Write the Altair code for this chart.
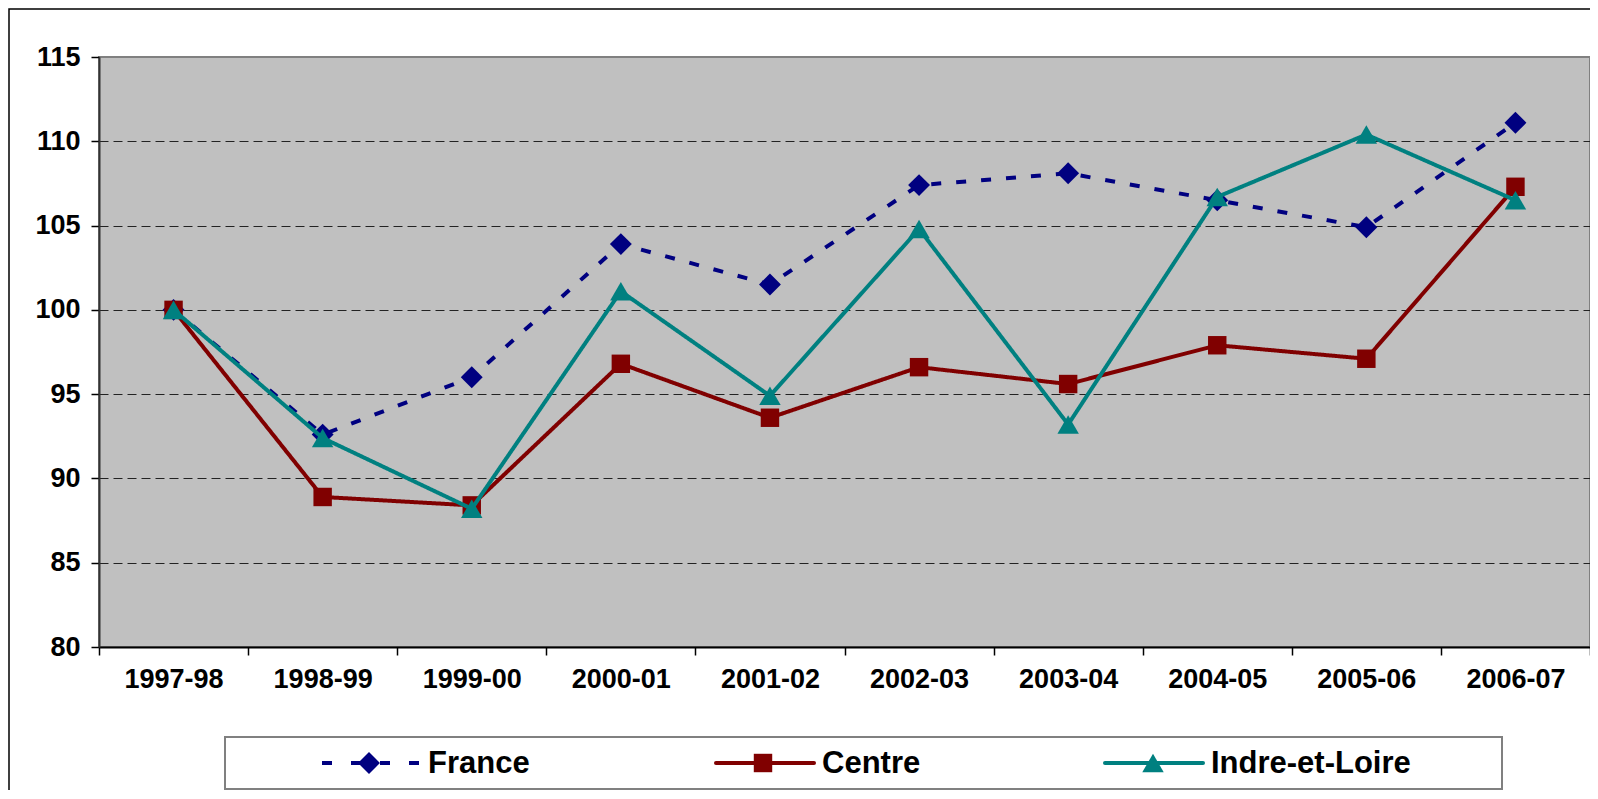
import altair as alt
import pandas as pd

categories = ["1997-98", "1998-99", "1999-00", "2000-01", "2001-02",
              "2002-03", "2003-04", "2004-05", "2005-06", "2006-07"]
france = [100, 92.6, 96.0, 103.9, 101.5, 107.4, 108.1, 106.5, 104.9, 111.1]
centre = [100, 88.9, 88.4, 96.8, 93.6, 96.6, 95.6, 97.9, 97.1, 107.3]
indre = [100, 92.4, 88.2, 101.1, 94.9, 104.8, 93.2, 106.7, 110.4, 106.5]
series_names = ["France", "Centre", "Indre-et-Loire"]
series_colors = ["#000080", "#800000", "#008080"]
y_ticks = [80, 85, 90, 95, 100, 105, 110, 115]

FONT = "Liberation Sans"
W, H = 1491, 590

x_enc = alt.X("cat:O", sort=categories,
              scale=alt.Scale(type="band", domain=categories, paddingInner=0, paddingOuter=0),
              bandPosition=0.5,
              axis=alt.Axis(title=None, labelAngle=0, tickBand="extent", grid=False,
                            labelFont=FONT, labelFontSize=27, labelFontWeight="bold",
                            labelColor="#000000", labelPadding=11, tickSize=8,
                            tickColor="#000000", tickWidth=1.5,
                            domainColor="#000000", domainWidth=2))
y_enc = alt.Y("val:Q", scale=alt.Scale(domain=[80, 115], nice=False, zero=False),
              axis=alt.Axis(title=None, values=y_ticks, labelFont=FONT, labelFontSize=27,
                            labelFontWeight="bold", labelColor="#000000", labelPadding=11,
                            tickSize=8, tickColor="#000000", tickWidth=1.5,
                            domainColor="#333333", domainWidth=2,
                            gridColor="#222222", gridDash=[9, 5], gridWidth=1.2,
                            gridOpacity=alt.condition("datum.value == 80 || datum.value == 115",
                                                      alt.value(0), alt.value(1))))

def series_layers(name, values, color, shape, size, dash):
    df = pd.DataFrame({"cat": categories, "val": values, "series": name})
    base = alt.Chart(df)
    line = base.mark_line(color=color, strokeWidth=4, strokeDash=dash).encode(x=x_enc, y=y_enc)
    pts = base.mark_point(color=color, filled=True, opacity=1, shape=shape, size=size).encode(x=x_enc, y=y_enc)
    return [line, pts]

layers = []
layers += series_layers("France", france, series_colors[0], "diamond", 480, [10, 15])
layers += series_layers("Centre", centre, series_colors[1], "square", 340, [1, 0])
layers += series_layers("Indre-et-Loire", indre, series_colors[2], "triangle-up", 460, [1, 0])

dummy = pd.DataFrame({"a": [0]})

# outer frame (right and bottom sides fall outside the picture, as in the original)
frame = alt.Chart(dummy).mark_rect(fill=None, stroke="#000000", strokeWidth=1.5).encode(
    x=alt.value(-90), x2=alt.value(1520), y=alt.value(-48), y2=alt.value(780))

# legend box
leg_box = alt.Chart(dummy).mark_rect(fill="#ffffff", stroke="#808080", strokeWidth=2).encode(
    x=alt.value(126), x2=alt.value(1403), y=alt.value(680), y2=alt.value(732))

LY = 706
leg = [frame, leg_box]
# France
leg.append(alt.Chart(dummy).mark_rule(color=series_colors[0], strokeWidth=4, strokeDash=[10, 19]).encode(
    x=alt.value(223), x2=alt.value(320), y=alt.value(LY)))
leg.append(alt.Chart(dummy).mark_point(color=series_colors[0], filled=True, opacity=1, shape="diamond", size=480).encode(
    x=alt.value(270), y=alt.value(LY)))
# Centre
leg.append(alt.Chart(dummy).mark_rule(color=series_colors[1], strokeWidth=4, strokeCap="round").encode(
    x=alt.value(617), x2=alt.value(715), y=alt.value(LY)))
leg.append(alt.Chart(dummy).mark_point(color=series_colors[1], filled=True, opacity=1, shape="square", size=340).encode(
    x=alt.value(664), y=alt.value(LY)))
# Indre
leg.append(alt.Chart(dummy).mark_rule(color=series_colors[2], strokeWidth=4, strokeCap="round").encode(
    x=alt.value(1006), x2=alt.value(1104), y=alt.value(LY)))
leg.append(alt.Chart(dummy).mark_point(color=series_colors[2], filled=True, opacity=1, shape="triangle-up", size=460).encode(
    x=alt.value(1054), y=alt.value(LY)))

for name, xpos in zip(series_names, [329, 723, 1112]):
    leg.append(alt.Chart(dummy).mark_text(text=name, align="left", baseline="middle", font=FONT,
                                          fontSize=31, fontWeight="bold", color="#000000").encode(
        x=alt.value(xpos), y=alt.value(LY + 1)))

chart = alt.layer(*leg[:1], *layers, *leg[1:]).properties(
    width=W, height=H,
    padding={"left": 91, "top": 49, "right": 0, "bottom": 143},
    autosize=alt.AutoSizeParams(type="none"),
    background="#ffffff",
).configure_view(fill="#C0C0C0", stroke="#808080", strokeWidth=2)

chart.save("out.html", embed_options={"renderer": "svg", "actions": False})
